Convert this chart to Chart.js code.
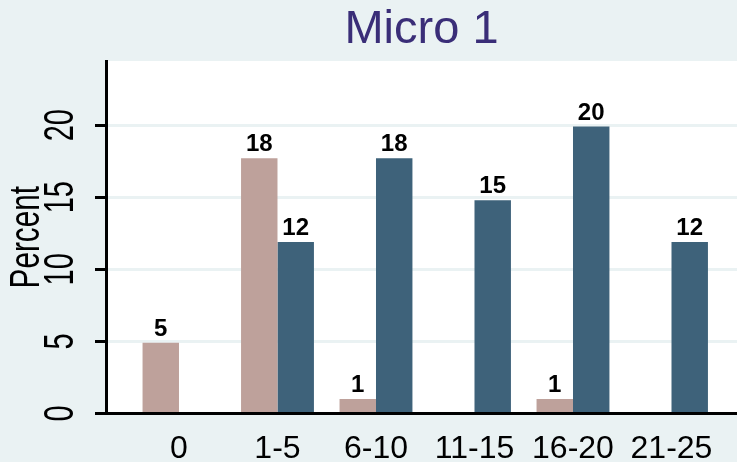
<!DOCTYPE html>
<html>
<head>
<meta charset="utf-8">
<script src="https://cdn.jsdelivr.net/npm/chart.js@4.4.1/dist/chart.umd.min.js"></script>
<style>
  html, body { margin: 0; padding: 0; background: #EAF2F3; overflow: hidden; }
  canvas { display: block; }
</style>
</head>
<body>
<canvas id="c" width="737" height="462"></canvas>
<script>
// ---- data ----
const categories = ['0', '1-5', '6-10', '11-15', '16-20', '21-25'];
const series1Values = [4.9, 17.7, 1.0, null, 1.0, null];    // light (rose) bars
const series2Values = [null, 11.9, 17.7, 14.8, 19.9, 11.9]; // dark (blue) bars
const yTicks = [0, 5, 10, 15, 20];
const titleText = 'Micro 1';
const yTitle = 'Percent';

const FONT = "'Liberation Sans', Arial, Helvetica, sans-serif";
const CONDENSE = 0.69;

const canvas = document.getElementById('c');
const ctx = canvas.getContext('2d');
// rotated texts in the reference are drawn narrow; condense them
const baseFill = ctx.fillText.bind(ctx);
ctx.fillText = function (text, x, y, maxWidth) {
  const m = ctx.getTransform();
  if (Math.abs(m.b) > 0.5) {
    const w = ctx.measureText(text).width * CONDENSE;
    maxWidth = (maxWidth === undefined) ? w : Math.min(maxWidth, w);
  }
  return maxWidth === undefined ? baseFill(text, x, y) : baseFill(text, x, y, maxWidth);
};

const bgPlugin = {
  id: 'bg',
  beforeDraw(chart) {
    const c = chart.ctx, a = chart.chartArea;
    c.save();
    c.fillStyle = '#EAF2F3';
    c.fillRect(0, 0, chart.width, chart.height);
    c.fillStyle = '#FFFFFF';
    c.fillRect(a.left, a.top, a.right - a.left, a.bottom - a.top);
    c.restore();
  }
};

const valueLabels = {
  id: 'valueLabels',
  afterDatasetsDraw(chart) {
    const c = chart.ctx;
    c.save();
    c.font = 'bold 24px ' + FONT;
    c.fillStyle = '#000000';
    c.textAlign = 'center';
    c.textBaseline = 'alphabetic';
    chart.data.datasets.forEach((ds, di) => {
      const meta = chart.getDatasetMeta(di);
      meta.data.forEach((bar, i) => {
        const v = ds.data[i].y;
        if (v === null || v === undefined) return;
        c.fillText(String(Math.round(v)), bar.x, bar.y - 7);
      });
    });
    c.restore();
  }
};

const toPoints = vals => vals.map((v, i) => ({ x: i, y: v }));

new Chart(ctx, {
  type: 'bar',
  data: {
    datasets: [
      { data: toPoints(series1Values), backgroundColor: '#BEA19B', borderWidth: 0,
        categoryPercentage: 0.74, barPercentage: 1.0 },
      { data: toPoints(series2Values), backgroundColor: '#3E627A', borderWidth: 0,
        categoryPercentage: 0.74, barPercentage: 1.0 }
    ]
  },
  options: {
    responsive: false,
    devicePixelRatio: 1,
    animation: false,
    layout: { padding: 0 },
    plugins: {
      legend: { display: false },
      tooltip: { enabled: false },
      title: {
        display: true,
        text: titleText,
        fullSize: false,
        color: '#3A2E78',
        font: { family: FONT, size: 47, weight: 'normal', lineHeight: 1 },
        padding: { top: 7, bottom: 7 }
      }
    },
    scales: {
      x: {
        type: 'linear',
        offset: false,
        min: -0.741,
        max: 5.665,
        grid: { display: false, drawTicks: false, offset: false },
        border: { display: true, color: '#000000', width: 3 },
        ticks: {
          stepSize: 1,
          includeBounds: false,
          autoSkip: false,
          maxRotation: 0,
          minRotation: 0,
          padding: 16,
          color: '#000000',
          font: { family: FONT, size: 32 },
          callback: (v) => (Number.isInteger(v) && v >= 0 && v < categories.length) ? categories[v] : ''
        },
        afterFit: s => { s.height = 48.5; }
      },
      y: {
        min: 0,
        max: 24.45,
        grid: { color: '#EAF2F3', lineWidth: 3, tickColor: '#000000', tickWidth: 3, tickLength: 11 },
        border: { display: true, color: '#000000', width: 3 },
        afterBuildTicks: s => { s.ticks = yTicks.map(v => ({ value: v })); },
        ticks: {
          minRotation: 90,
          maxRotation: 90,
          crossAlign: 'center',
          padding: 10,
          color: '#000000',
          font: { family: FONT, size: 42 }
        },
        title: {
          display: true,
          text: yTitle,
          color: '#000000',
          font: { family: FONT, size: 43 },
          padding: { top: 1, bottom: 0 }
        },
        afterFit: s => { s.width = 106; }
      }
    }
  },
  plugins: [bgPlugin, valueLabels]
});
</script>
</body>
</html>
